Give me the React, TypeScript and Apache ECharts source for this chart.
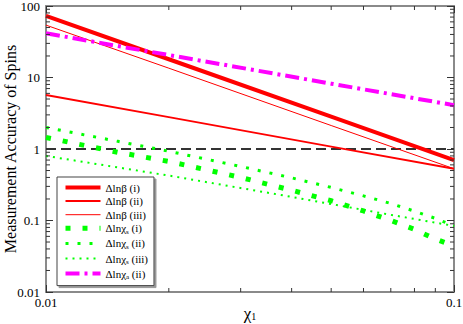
import React, { useEffect, useRef } from 'react';
import * as echarts from 'echarts';

const FONT = '"Liberation Serif", "Times New Roman", serif';

// ---- data (log-log) ----
const betaI_x = [0.01, 0.02, 0.05, 0.1];
const betaI_y = [73, 18, 2.84, 0.7];

const betaII_x = [0.01, 0.02, 0.05, 0.1];
const betaII_y = [5.7, 2.79, 1.08, 0.53];

const betaIII_x = [0.01, 0.02, 0.05, 0.1];
const betaIII_y = [54, 13.5, 2.13, 0.53];

const chiSI_x = [0.01, 0.015, 0.02, 0.03, 0.04, 0.05, 0.06, 0.07, 0.08, 0.09, 0.1];
const chiSI_y = [1.45, 0.9, 0.67, 0.4, 0.265, 0.189, 0.136, 0.1, 0.075, 0.055, 0.044];

const chiSII_x = [0.01, 0.015, 0.02, 0.03, 0.04, 0.05, 0.06, 0.07, 0.08, 0.09, 0.1];
const chiSII_y = [2.0, 1.28, 0.93, 0.57, 0.395, 0.29, 0.221, 0.173, 0.135, 0.107, 0.084];

const chiSIII_x = [0.01, 0.02, 0.04, 0.07, 0.1];
const chiSIII_y = [0.8, 0.425, 0.214, 0.12, 0.084];

const chiAII_x = [0.01, 0.02, 0.05, 0.1];
const chiAII_y = [41.5, 20.6, 8.2, 4.1];

const unity_x = [0.01, 0.1];
const unity_y = [1, 1];

const seriesNames = [
  'Δlnβ (i)',
  'Δlnβ (ii)',
  'Δlnβ (iii)',
  'Δlnχs (i)',
  'Δlnχs (ii)',
  'Δlnχs (iii)',
  'Δlnχa (ii)',
];

const xMin = 0.01;
const xMax = 0.1;
const yMin = 0.01;
const yMax = 100;

const xMinorTicks = [0.02, 0.03, 0.04, 0.05, 0.06, 0.07, 0.08, 0.09];
const yMinorTicks = [
  0.02, 0.03, 0.04, 0.05, 0.06, 0.07, 0.08, 0.09,
  0.2, 0.3, 0.4, 0.5, 0.6, 0.7, 0.8, 0.9,
  2, 3, 4, 5, 6, 7, 8, 9,
  20, 30, 40, 50, 60, 70, 80, 90,
];

const xTitle = '{a|χ}{b|1}';
const yTitle = 'Measurement Accuracy of Spins';

const zip = (xs: number[], ys: number[]) => xs.map((x, i) => [x, ys[i]]);

const fmt = (v: number) => (v >= 1 ? String(Math.round(v)) : String(Number(v.toPrecision(1))));

const AXIS_COLOR = '#8a8a8a';
const TICK_COLOR = '#333';

function buildOption(): any {
  const lineSeries = (name: string, xs: number[], ys: number[], lineStyle: any, z = 2) => ({
    name,
    type: 'line',
    data: zip(xs, ys),
    showSymbol: false,
    symbol: 'none',
    itemStyle: { color: lineStyle.color },
    lineStyle,
    z,
    silent: true,
  });

  const baseAxis = {
    type: 'log',
    logBase: 10,
    axisLine: { show: true, onZero: false, lineStyle: { color: AXIS_COLOR, width: 2 } },
    axisTick: { show: true, inside: true, length: 7, lineStyle: { color: TICK_COLOR, width: 1 } },
    splitLine: { show: false },
    minorTick: { show: false },
  };

  return {
    animation: false,
    backgroundColor: '#fff',
    grid: { left: 46, right: 9, top: 6, bottom: 32, containLabel: false, outerBoundsMode: 'none' },
    xAxis: [
      {
        ...baseAxis,
        min: xMin,
        max: xMax,
        position: 'bottom',
        axisLabel: { color: '#000', fontFamily: FONT, fontSize: 13, margin: 4, formatter: fmt },
        name: xTitle,
        nameLocation: 'middle',
        nameGap: 14,
        nameMoveOverlap: false,
        nameTextStyle: {
          color: '#000',
          rich: {
            a: { fontFamily: FONT, fontSize: 17, color: '#000', lineHeight: 15 },
            b: { fontFamily: FONT, fontSize: 10, color: '#000', lineHeight: 8, verticalAlign: 'bottom' },
          },
        },
      },
      {
        ...baseAxis,
        min: xMin,
        max: xMax,
        position: 'top',
        axisLabel: { show: false },
      },
    ],
    yAxis: [
      {
        ...baseAxis,
        min: yMin,
        max: yMax,
        position: 'left',
        axisLabel: { color: '#000', fontFamily: FONT, fontSize: 13, margin: 6, formatter: fmt },
        name: yTitle,
        nameLocation: 'middle',
        nameGap: 28,
        nameMoveOverlap: false,
        nameTextStyle: { color: '#000', fontFamily: FONT, fontSize: 16 },
      },
      {
        ...baseAxis,
        min: yMin,
        max: yMax,
        position: 'right',
        axisLabel: { show: false },
      },
    ],
    legend: {
      data: seriesNames,
      orient: 'vertical',
      left: 57,
      top: 177,
      padding: [5, 6, 5, 6],
      itemWidth: 35,
      itemHeight: 10,
      itemGap: 2.6,
      selectedMode: false,
      backgroundColor: '#fff',
      borderColor: '#444',
      borderWidth: 1,
      shadowColor: '#999',
      shadowOffsetX: 2,
      shadowOffsetY: 2,
      shadowBlur: 0,
      itemStyle: { opacity: 0, borderWidth: 0 },
      lineStyle: { width: 'inherit', type: 'inherit', cap: 'inherit' },
      formatter: (name: string) => {
        const m = name.match(/^Δlnχ([sa]) (.*)$/);
        if (m) return `{n|Δlnχ}{s|${m[1]}}{n| ${m[2]}}`;
        return `{n|${name}}`;
      },
      textStyle: {
        fontFamily: FONT,
        fontSize: 11,
        color: '#000',
        rich: {
          n: { fontFamily: FONT, fontSize: 11, color: '#000', lineHeight: 14 },
          s: { fontFamily: FONT, fontSize: 7, color: '#000', lineHeight: 7, verticalAlign: 'bottom' },
        },
      },
    },
    series: [
      lineSeries('unity', unity_x, unity_y, { color: '#333', width: 2, type: [10, 5] }, 1),
      lineSeries(seriesNames[0], betaI_x, betaI_y, { color: '#ff0000', width: 4 }),
      lineSeries(seriesNames[1], betaII_x, betaII_y, { color: '#ff0000', width: 2 }),
      lineSeries(seriesNames[2], betaIII_x, betaIII_y, { color: '#ff0000', width: 1 }),
      lineSeries(seriesNames[3], chiSI_x, chiSI_y, { color: '#00ff00', width: 5, type: [5, 12], cap: 'butt' }),
      lineSeries(seriesNames[4], chiSII_x, chiSII_y, { color: '#00ff00', width: 3, type: [3, 9], cap: 'butt' }),
      lineSeries(seriesNames[5], chiSIII_x, chiSIII_y, { color: '#00ff00', width: 2, type: [2, 5], cap: 'butt' }),
      lineSeries(seriesNames[6], chiAII_x, chiAII_y, { color: '#ff00ff', width: 4, type: [14, 5, 3, 5], cap: 'butt' }, 3),
      {
        type: 'custom',
        name: 'xMinor',
        silent: true,
        data: xMinorTicks.map((v) => [v, 1]),
        renderItem: (params: any, api: any) => {
          const cs = params.coordSys;
          const px = api.coord([api.value(0), 1])[0];
          const st = { stroke: TICK_COLOR, lineWidth: 1 };
          return {
            type: 'group',
            children: [
              { type: 'line', shape: { x1: px, y1: cs.y + cs.height, x2: px, y2: cs.y + cs.height - 4 }, style: st },
              { type: 'line', shape: { x1: px, y1: cs.y, x2: px, y2: cs.y + 4 }, style: st },
            ],
          };
        },
        z: 5,
      },
      {
        type: 'custom',
        name: 'yMinor',
        silent: true,
        data: yMinorTicks.map((v) => [0.01, v]),
        renderItem: (params: any, api: any) => {
          const cs = params.coordSys;
          const py = api.coord([0.01, api.value(1)])[1];
          const st = { stroke: TICK_COLOR, lineWidth: 1 };
          return {
            type: 'group',
            children: [
              { type: 'line', shape: { x1: cs.x, y1: py, x2: cs.x + 4, y2: py }, style: st },
              { type: 'line', shape: { x1: cs.x + cs.width, y1: py, x2: cs.x + cs.width - 4, y2: py }, style: st },
            ],
          };
        },
        z: 5,
      },
    ],
  };
}

export default function App() {
  const ref = useRef<HTMLDivElement>(null);
  useEffect(() => {
    if (!ref.current) return;
    const chart = echarts.init(ref.current, null, { renderer: 'svg' });
    chart.setOption(buildOption());
    return () => chart.dispose();
  }, []);
  return (
    <div
      ref={ref}
      style={{ position: 'absolute', left: 0, top: 0, width: 463, height: 324 }}
    />
  );
}
